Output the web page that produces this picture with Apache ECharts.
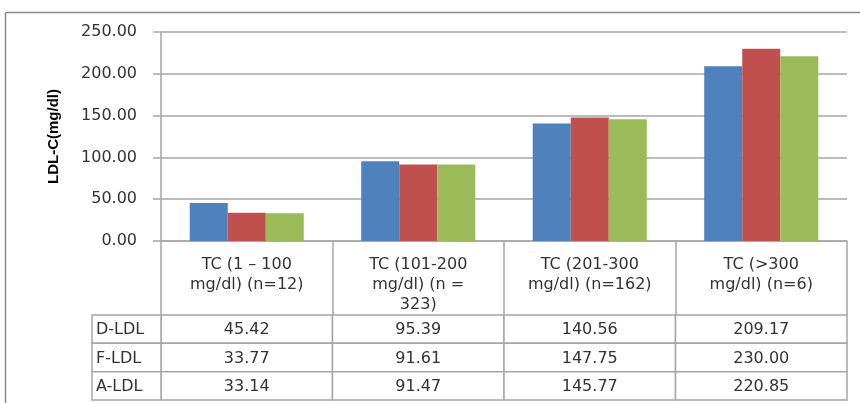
<!DOCTYPE html>
<html>
<head>
<meta charset="utf-8">
<script src="https://cdn.jsdelivr.net/npm/echarts@6/dist/echarts.min.js"></script>
<style>
html,body{margin:0;padding:0;background:#fff;overflow:hidden;}
#chart{width:860px;height:403px;}
</style>
</head>
<body>
<div id="chart"></div>
<script>
const categories = [
  'TC (1 \u2013 100\nmg/dl) (n=12)',
  'TC (101-200\nmg/dl) (n =\n323)',
  'TC (201-300\nmg/dl) (n=162)',
  'TC (>300\nmg/dl) (n=6)'
];
const seriesNames = ['D-LDL', 'F-LDL', 'A-LDL'];
const dLdl = [45.42, 95.39, 140.56, 209.17];
const fLdl = [33.77, 91.61, 147.75, 230.00];
const aLdl = [33.14, 91.47, 145.77, 220.85];
const yTicks = [0, 50, 100, 150, 200, 250];
const yAxisTitle = 'LDL-C(mg/dl)';

const seriesValues = [dLdl, fLdl, aLdl];
const colors = ['#4F81BD', '#C0504D', '#9BBB59'];
const lineColor = '#A6A6A6';
const textColor = '#333333';
const font = 'DejaVu Sans';

const chart = echarts.init(document.getElementById('chart'), null, {renderer: 'canvas'});

// table cell data
const valueCells = [];
seriesValues.forEach((arr, r) => arr.forEach((v, c) => valueCells.push([c, r, v])));
const labelCells = seriesNames.map((n, r) => [0, r, n]);

function cellRenderer(alignLeft) {
  return function (params, api) {
    const c = api.coord([api.value(0), api.value(1)]);
    const s = api.size([1, 1]);
    const x0 = c[0] - s[0] / 2, y0 = c[1] - s[1] / 2;
    const raw = api.value(2);
    const txt = typeof raw === 'number' ? raw.toFixed(2) : String(raw);
    return {
      type: 'group',
      children: [
        {type: 'rect', shape: {x: x0, y: y0, width: s[0], height: s[1]},
         style: {fill: '#fff', stroke: lineColor, lineWidth: 1.5}},
        {type: 'text', style: {
          text: txt,
          x: alignLeft ? x0 + 4 : c[0], y: c[1] + 1,
          align: alignLeft ? 'left' : 'center', verticalAlign: 'middle',
          fill: textColor, font: '16px "' + font + '"'
        }}
      ]
    };
  };
}

const option = {
  backgroundColor: '#fff',
  animation: false,
  graphic: [
    {type: 'line', silent: true, z: -10,
     shape: {x1: 5.5, y1: 12.5, x2: 860, y2: 12.5},
     style: {stroke: '#8A8A8A', lineWidth: 1.5}},
    {type: 'line', silent: true, z: -10,
     shape: {x1: 5.5, y1: 12.5, x2: 5.5, y2: 403},
     style: {stroke: '#8A8A8A', lineWidth: 1.5}}
  ],
  grid: [
    {left: 161, right: 13, top: 32, bottom: 162},
    {left: 161, right: 13, top: 315, height: 85},
    {left: 92, width: 69, top: 315, height: 85}
  ],
  xAxis: [
    {
      type: 'category', gridIndex: 0, data: categories, boundaryGap: true,
      axisLine: {show: true, lineStyle: {color: lineColor, width: 1.5}},
      axisTick: {show: true, length: 74, lineStyle: {color: lineColor, width: 1.5}},
      axisLabel: {interval: 0, margin: 14, color: textColor, fontFamily: font, fontSize: 16, lineHeight: 20, align: 'center'},
      splitLine: {show: false}
    },
    {type: 'category', gridIndex: 1, data: categories, show: false},
    {type: 'category', gridIndex: 2, data: ['label'], show: false}
  ],
  yAxis: [
    {
      type: 'value', gridIndex: 0, min: yTicks[0], max: yTicks[yTicks.length - 1], interval: yTicks[1] - yTicks[0],
      name: yAxisTitle, nameLocation: 'middle', nameGap: 100,
      nameTextStyle: {fontFamily: 'Liberation Sans', fontWeight: 'bold', fontSize: 15, color: '#000'},
      axisLine: {show: true, lineStyle: {color: lineColor, width: 1.5}},
      axisTick: {show: true, length: 8, lineStyle: {color: lineColor, width: 1.5}},
      axisLabel: {margin: 24, color: textColor, fontFamily: font, fontSize: 16, formatter: v => v.toFixed(2)},
      splitLine: {show: true, lineStyle: {color: lineColor, width: 1.5}}
    },
    {type: 'category', gridIndex: 1, data: seriesNames, inverse: true, show: false},
    {type: 'category', gridIndex: 2, data: seriesNames, inverse: true, show: false}
  ],
  series: [
    ...seriesNames.map((name, i) => ({
      type: 'bar', name: name, xAxisIndex: 0, yAxisIndex: 0,
      data: seriesValues[i],
      barGap: '0%', barCategoryGap: '33.5%',
      itemStyle: {color: colors[i]}
    })),
    {type: 'custom', xAxisIndex: 1, yAxisIndex: 1, data: valueCells, renderItem: cellRenderer(false), clip: false},
    {type: 'custom', xAxisIndex: 2, yAxisIndex: 2, data: labelCells, renderItem: cellRenderer(true), clip: false}
  ]
};
chart.setOption(option);
</script>
</body>
</html>
